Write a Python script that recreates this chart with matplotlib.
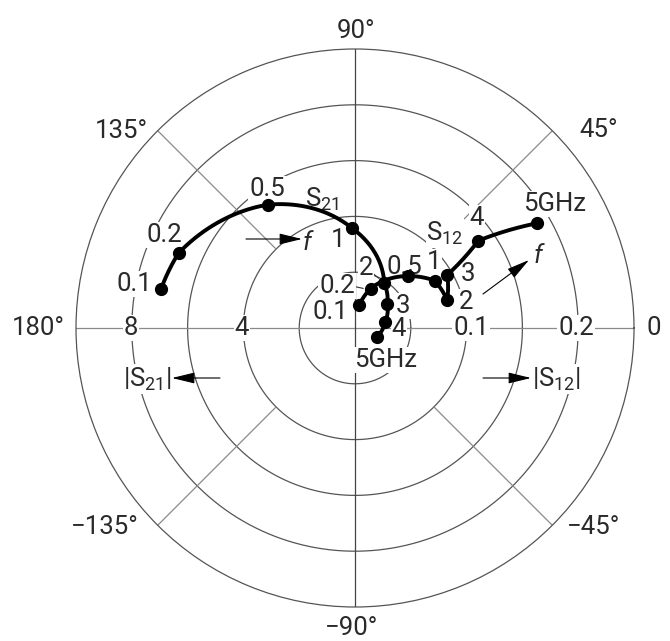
import numpy as np
import matplotlib
matplotlib.use('Agg')
import matplotlib.pyplot as plt

plt.rcParams['font.family'] = ['Roboto', 'DejaVu Sans']

# S-parameters (magnitude, angle in degrees)
freq_s21 = ['0.1', '0.2', '0.5', '1', '2', '3', '4', '5GHz']
s21_mag = [7.09, 6.87, 5.41, 3.59, 1.93, 1.45, 1.10, 0.84]
s21_ang = [168.6, 157.0, 125.2, 91.9, 57.2, 36.6, 11.3, -21.8]

freq_s12 = ['0.1', '0.2', '0.5', '1', '2', '3', '4', '5GHz']
s12_mag = [0.021, 0.038, 0.0663, 0.0833, 0.0864, 0.0954, 0.1354, 0.1884]
s12_ang = [79.4, 68.4, 44.6, 30.6, 16.9, 29.9, 35.3, 29.9]

s21_full = 10.0    # |S21| at outer circle
s12_full = 0.25    # |S12| at outer circle

s21_ticks = ['4', '8']
s12_ticks = ['0.1', '0.2']
angle_labels = ['0', '45°', '90°', '135°', '180°', '\u2212135°', '\u221290°', '\u221245°']

GRID = '#555555'
RAD = '#8a8a8a'
FS = 18.5

fig = plt.figure(figsize=(6.70, 6.41), dpi=100)
ax = fig.add_axes([76 / 670, 34 / 641, 558 / 670, 558 / 641], projection='polar')
ax.set_ylim(0, 1)
ax.grid(False)
ax.set_xticks([])
ax.set_yticks([])
ax.spines['polar'].set_color(GRID)
ax.spines['polar'].set_linewidth(0.9)


def at(x, y):
    # pixel position in the 670x641 picture -> axes fraction
    return ((x - 76) / 558, (607 - y) / 558)


# rings
th = np.linspace(0, 2 * np.pi, 400)
for r in [0.2, 0.4, 0.6, 0.8]:
    ax.plot(th, np.full_like(th, r), color=GRID, lw=0.9, zorder=1)

# spokes
for a in [0, 90, 180, 270]:
    ax.plot([np.radians(a)] * 2, [0, 1], color=RAD if a in (0, 180) else '#444444', lw=0.9, zorder=1)
for a in [45, 135, 225, 315]:
    ax.plot([np.radians(a)] * 2, [0.4, 1], color=RAD, lw=0.9, zorder=1)

# curves (segments follow the polar grid, like the original trace)
s21_r = np.array(s21_mag) / s21_full
s12_r = np.array(s12_mag) / s12_full
for ang, r in [(s21_ang, s21_r), (s12_ang, s12_r)]:
    ln, = ax.plot(np.radians(ang), r, color='black', lw=2.8, marker='o', ms=8.5, zorder=5)
    ln.get_path()._interpolation_steps = 60

box = dict(facecolor='white', edgecolor='none', pad=0.5)


def label(s, x, y, **kw):
    kw.setdefault('fontsize', FS)
    ax.text(*at(x, y), s, transform=ax.transAxes, ha='center', va='center',
            color='#2a2a2a', zorder=3, **kw)


# angle labels
angle_pos = [(654, 328), (599, 130), (356, 31), (121, 131), (38, 328),
             (105, 527), (352, 628), (594, 527)]
for s, (x, y) in zip(angle_labels, angle_pos):
    label(s, x, y)

# radial scale labels
for s, (x, y) in zip(s21_ticks, [(242, 328), (131, 328)]):
    label(s, x, y, bbox=box)
for s, (x, y) in zip(s12_ticks, [(471, 328), (576, 328)]):
    label(s, x, y, bbox=box)

# point labels
s21_lab_pos = [(134, 284), (164, 235), (267, 189), (338, 240), (366, 268),
               (403, 306), (399, 329), (386, 360)]
for s, (x, y) in zip(freq_s21, s21_lab_pos):
    label(s, x, y, bbox=box)
s12_lab_pos = [(330, 312), (337, 286), (404, 267), (434, 262), (466, 302),
               (468, 274), (477, 218), (555, 204)]
for s, (x, y) in zip(freq_s12, s12_lab_pos):
    label(s, x, y, bbox=box)

label(r'S$_{\mathregular{21}}$', 322, 199, bbox=box)
label(r'S$_{\mathregular{12}}$', 445, 233, bbox=box)
label(r'|S$_{\mathregular{21}}$|', 147, 379, bbox=box)
label(r'|S$_{\mathregular{12}}$|', 556, 379, bbox=box)
label('f', 307, 243, style='italic')
label('f', 538, 256, style='italic')

# leader lines
for (x0, y0), (x1, y1) in [((371, 272), (381, 280)), ((352, 286), (366, 289))]:
    ax.annotate('', xy=at(x1, y1), xytext=at(x0, y0), xycoords='axes fraction',
                arrowprops=dict(arrowstyle='-', color='#333333', lw=0.8), zorder=2)

# arrows
arrow = dict(arrowstyle='-|>,head_length=0.7,head_width=0.17', color='black',
             lw=0.8, mutation_scale=20, shrinkA=0, shrinkB=0)
for (x0, y0), (x1, y1) in [((246, 239), (302, 239)), ((483, 294), (529, 260)),
                           ((220, 378), (172, 378)), ((483, 378), (531, 378))]:
    ax.annotate('', xy=at(x1, y1), xytext=at(x0, y0), xycoords='axes fraction',
                arrowprops=arrow, zorder=4)

fig.savefig('out.png', dpi=100, facecolor='white')
